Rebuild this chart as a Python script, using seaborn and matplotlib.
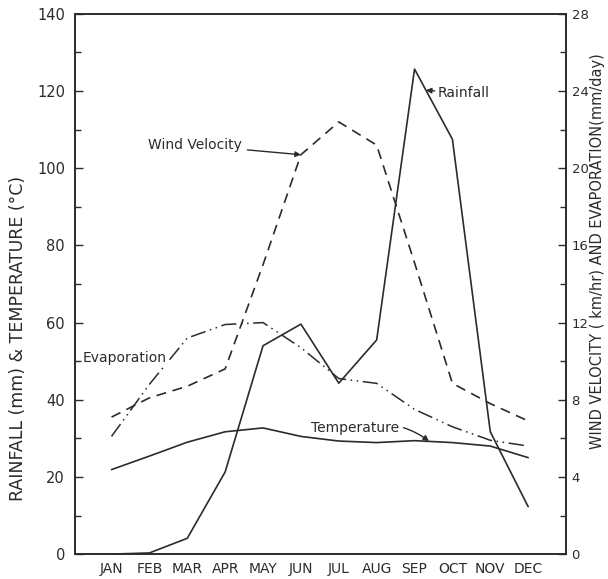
import matplotlib
matplotlib.use("Agg")
import matplotlib.pyplot as plt
import numpy as np
import pandas as pd
import seaborn as sns
from matplotlib.ticker import MultipleLocator

# ---- data ----
months = ["JAN", "FEB", "MAR", "APR", "MAY", "JUN", "JUL", "AUG", "SEP", "OCT", "NOV", "DEC"]
rainfall = [0.0, 0.3, 4.1, 21.3, 54.0, 59.6, 44.3, 55.5, 125.7, 107.5, 31.7, 12.3]      # mm (left)
temperature = [21.9, 25.4, 29.0, 31.7, 32.7, 30.5, 29.3, 28.9, 29.4, 28.9, 28.0, 25.0]  # degC (left)
wind_velocity = [7.1, 8.1, 8.7, 9.6, 15.0, 20.7, 22.4, 21.2, 15.1, 8.85, 7.8, 6.9]      # km/hr (right)
evaporation = [6.1, 8.8, 11.2, 11.9, 12.0, 10.7, 9.1, 8.85, 7.5, 6.6, 5.9, 5.6]         # mm/day (right)

left_ticks = [0, 20, 40, 60, 80, 100, 120, 140]
right_ticks = [0, 4, 8, 12, 16, 20, 24, 28]

df = pd.DataFrame({
    "idx": np.arange(len(months)),
    "month": months,
    "Rainfall": rainfall,
    "Temperature": temperature,
    "Wind": wind_velocity,
    "Evaporation": evaporation,
})

sns.set_theme(style="white")
plt.rcParams["font.family"] = ["DejaVu Sans"]

ink = "#2b2b2b"
fig = plt.figure(figsize=(6.08, 5.79), dpi=100)
ax = fig.add_axes([0.123, 0.043, 0.808, 0.933])

sns.lineplot(data=df, x="idx", y="Rainfall", ax=ax, color=ink, lw=1.2)
sns.lineplot(data=df, x="idx", y="Temperature", ax=ax, color=ink, lw=1.2)

ax2 = ax.twinx()
sns.lineplot(data=df, x="idx", y="Wind", ax=ax2, color=ink, lw=1.2,
             linestyle=(0, (6, 4)))
sns.lineplot(data=df, x="idx", y="Evaporation", ax=ax2, color=ink, lw=1.1,
             linestyle=(0, (10, 3, 1, 3, 1, 3)))

ax.set_xlim(-0.97, 12.0)
ax.set_ylim(0, 140)
ax2.set_ylim(0, 28)

ax.set_xticks(df["idx"])
ax.set_xticklabels(months, fontsize=10, color=ink)
ax.set_yticks(left_ticks)
ax.set_yticklabels([str(t) for t in left_ticks], fontsize=10.5, color=ink)
ax.yaxis.set_minor_locator(MultipleLocator(10))
ax2.set_yticks(right_ticks)
ax2.set_yticklabels([str(t) for t in right_ticks], fontsize=9.5, color=ink)
ax2.yaxis.set_minor_locator(MultipleLocator(2))

ax.tick_params(axis="x", direction="in", length=4, width=1, pad=6, colors=ink)
ax.tick_params(axis="y", which="major", direction="in", length=6, width=1, pad=7, colors=ink)
ax.tick_params(axis="y", which="minor", direction="in", length=4, width=1, left=True, colors=ink)
ax2.tick_params(axis="y", which="major", direction="in", length=6, width=1, pad=4, colors=ink)
ax2.tick_params(axis="y", which="minor", direction="in", length=4, width=1, right=True, colors=ink)

for a in (ax, ax2):
    for s in a.spines.values():
        s.set_color(ink)
        s.set_linewidth(1.2)

ax.set_xlabel("")
ax.set_ylabel("RAINFALL (mm) & TEMPERATURE (°C)", fontsize=12.5, color=ink)
ax.yaxis.set_label_coords(-0.098, 0.40)
ax2.set_ylabel("WIND VELOCITY ( km/hr) AND EVAPORATION(mm/day)", fontsize=10.5,
               color=ink, rotation=90)
ax2.yaxis.set_label_coords(1.048, 0.56)

# ---- annotations ----
arrow = dict(arrowstyle="-|>", color=ink, lw=1.0, mutation_scale=8)
ax2.annotate("Wind Velocity", xy=(5, wind_velocity[5]), xytext=(0.95, 21.2),
             fontsize=10, color=ink, va="center", ha="left",
             arrowprops=dict(arrow, shrinkA=2, shrinkB=0))
ax.annotate("Rainfall", xy=(8.3, 120.2), xytext=(8.62, 119.6),
            fontsize=10, color=ink, va="center", ha="left",
            arrowprops=dict(arrow, shrinkA=0, shrinkB=0))
ax.annotate("Temperature", xy=(8.38, 29.3), xytext=(5.26, 32.7),
            fontsize=10, color=ink, va="center", ha="left",
            arrowprops=dict(arrow, shrinkA=1, shrinkB=0,
                            connectionstyle="arc3,rad=-0.25"))
ax2.text(-0.77, 10.15, "Evaporation", fontsize=10, color=ink, va="center", ha="left",
         bbox=dict(facecolor="white", edgecolor="none", pad=0.5), zorder=5)

fig.savefig("out.png", dpi=100)
